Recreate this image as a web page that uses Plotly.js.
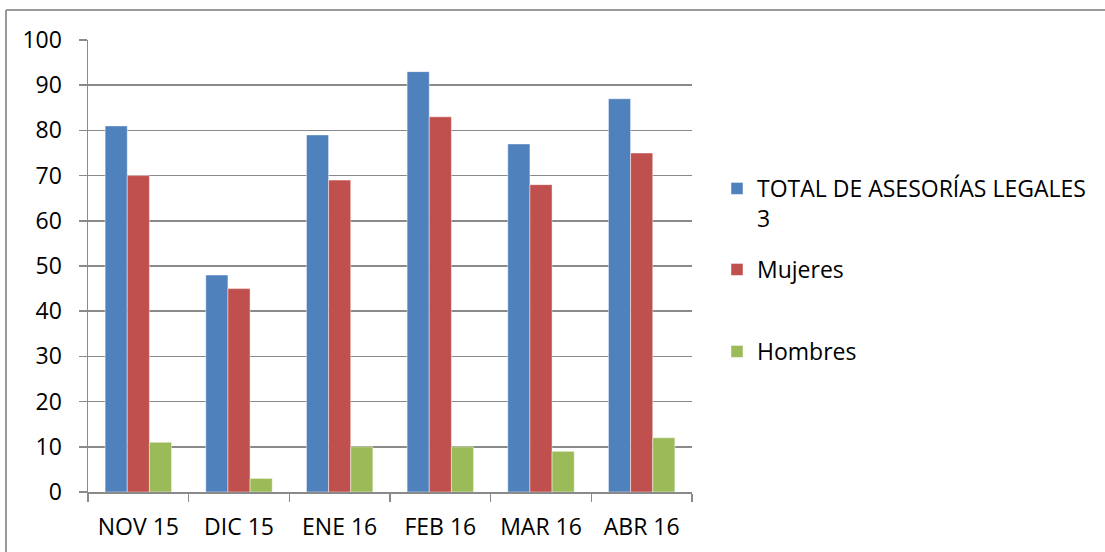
<!DOCTYPE html>
<html>
<head>
<meta charset="utf-8">
<script src="https://cdn.plot.ly/plotly-3.0.1.min.js"></script>
<style>html,body{margin:0;padding:0;background:#fff;}#chart{width:1105px;height:552px;}</style>
</head>
<body>
<div id="chart"></div>
<script>
const categories = ['NOV 15', 'DIC 15', 'ENE 16', 'FEB 16', 'MAR 16', 'ABR 16'];
const totalValues = [81, 48, 79, 93, 77, 87];
const mujeresValues = [70, 45, 69, 83, 68, 75];
const hombresValues = [11, 3, 10, 10, 9, 12];
const seriesNames = ['TOTAL DE ASESORÍAS LEGALES<br>3', 'Mujeres', 'Hombres'];
const yTicks = [0, 10, 20, 30, 40, 50, 60, 70, 80, 90, 100];

const W = 1105, H = 552;
const L = 88, R = 692, T = 40, B = 492;
const px = x => (x - L) / (R - L);
const py = y => (B - y) / (B - T);

const FONT = 'Open Sans, sans-serif';
const FS = 23;
const lineCol = 'rgba(255,255,255,0.45)';

const traces = [
  {type: 'bar', x: categories, y: totalValues, name: seriesNames[0], legend: 'legend',
   marker: {color: '#4F81BD', line: {color: lineCol, width: 1}}},
  {type: 'bar', x: categories, y: mujeresValues, name: seriesNames[1], legend: 'legend2',
   marker: {color: '#C0504D', line: {color: lineCol, width: 1}}},
  {type: 'bar', x: categories, y: hombresValues, name: seriesNames[2], legend: 'legend3',
   marker: {color: '#9BBB59', line: {color: lineCol, width: 1}}}
];

const legBase = {xanchor: 'left', yanchor: 'top', valign: 'top', bgcolor: 'rgba(0,0,0,0)',
  font: {family: FONT, size: FS, color: '#000'}, itemclick: false, itemdoubleclick: false};

const layout = {
  width: W, height: H,
  margin: {l: L, r: W - R, t: T, b: H - B, pad: 0},
  paper_bgcolor: '#fff', plot_bgcolor: '#fff',
  barmode: 'group', bargap: 0.34, bargroupgap: 0,
  font: {family: FONT, size: FS, color: '#000'},
  xaxis: {
    type: 'category', tickson: 'boundaries', ticks: 'outside', ticklen: 8, tickwidth: 1.5,
    tickcolor: '#8a8a8a', showline: true, linecolor: '#8a8a8a', linewidth: 1.5,
    showgrid: false, zeroline: false, ticklabelstandoff: 14,
    tickfont: {family: FONT, size: FS, color: '#000'}
  },
  yaxis: {
    range: [0, 100], tickvals: yTicks, ticktext: yTicks.map(String),
    ticks: 'outside', ticklen: 8, tickwidth: 1.5, tickcolor: '#8a8a8a',
    showline: true, linecolor: '#8a8a8a', linewidth: 1.5,
    showgrid: true, gridcolor: '#8a8a8a', gridwidth: 1.5, zeroline: false,
    ticklabelstandoff: 12,
    tickfont: {family: FONT, size: FS, color: '#000'}
  },
  legend: Object.assign({}, legBase, {x: px(717), y: py(167)}),
  legend2: Object.assign({}, legBase, {x: px(717), y: py(248)}),
  legend3: Object.assign({}, legBase, {x: px(717), y: py(330)}),
  showlegend: true,
  shapes: [
    {type: 'line', xref: 'paper', yref: 'paper', x0: px(6), x1: px(1110), y0: py(10), y1: py(10),
     line: {color: '#9a9a9a', width: 2}},
    {type: 'line', xref: 'paper', yref: 'paper', x0: px(6), x1: px(6), y0: py(10), y1: py(560),
     line: {color: '#9a9a9a', width: 2}}
  ]
};

Plotly.newPlot('chart', traces, layout, {displayModeBar: false, staticPlot: true});
</script>
</body>
</html>
